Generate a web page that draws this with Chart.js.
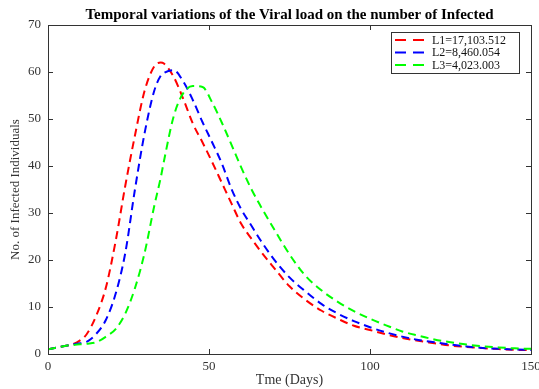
<!DOCTYPE html>
<html>
<head>
<meta charset="utf-8">
<script src="https://cdn.jsdelivr.net/npm/chart.js@4/dist/chart.umd.min.js"></script>
<style>
  html, body { margin: 0; padding: 0; background: #fff; }
  #wrap { width: 539px; height: 389px; }
</style>
</head>
<body>
<div id="wrap"><canvas id="infected"></canvas></div>
<script>
// values
const days = [0, 3, 6, 9, 12, 15, 18, 21, 24, 27, 30, 33, 35, 36, 39, 42, 45, 48, 51, 54, 57, 60, 63, 66, 70, 75, 80, 85, 90, 95, 100, 105, 110, 115, 120, 125, 130, 135, 140, 145, 150];
const infectedL1 = [1.0, 1.4, 1.8, 2.5, 4.2, 8.2, 14.2, 24.0, 35.8, 46.5, 56.0, 61.2, 62.0, 61.8, 59.0, 54.3, 49.0, 45.0, 40.8, 36.4, 32.0, 27.7, 24.7, 21.9, 18.5, 14.4, 11.5, 9.2, 7.5, 6.0, 5.1, 4.2, 3.4, 2.8, 2.3, 1.8, 1.5, 1.25, 1.05, 0.9, 0.8];
const infectedL2 = [1.0, 1.4, 1.8, 2.2, 2.6, 4.3, 7.3, 12.8, 21.5, 35.0, 47.0, 56.0, 59.2, 59.8, 60.4, 58.0, 54.0, 49.3, 45.0, 40.5, 35.1, 30.8, 27.5, 24.2, 20.3, 16.3, 13.3, 10.6, 8.6, 7.0, 5.7, 4.6, 3.7, 3.0, 2.5, 2.0, 1.6, 1.3, 1.1, 0.95, 0.85];
const infectedL3 = [1.0, 1.4, 1.8, 2.0, 2.2, 2.5, 3.7, 5.3, 8.6, 14.0, 21.5, 31.5, 37.5, 41.0, 50.5, 55.5, 57.0, 56.8, 53.5, 49.2, 44.5, 39.7, 35.3, 31.5, 26.8, 21.2, 16.6, 13.5, 11.1, 9.1, 7.5, 6.1, 4.8, 3.9, 3.1, 2.5, 2.0, 1.65, 1.4, 1.2, 1.1];
const seriesNames = ['L1=17,103.512', 'L2=8,460.054', 'L3=4,023.003'];
const seriesColors = ['#ff0000', '#0000ff', '#00ff00'];
const xTicks = [0, 50, 100, 150];
const yTicks = [0, 10, 20, 30, 40, 50, 60, 70];

const serif = "'Liberation Serif', 'DejaVu Serif', serif";

function toPoints(vals) {
    return days.map((d, i) => ({ x: d, y: vals[i] }));
}

// box round the plot with inward ticks, matlab style
const boxPlugin = {
    id: 'boxPlugin',
    afterDatasetsDraw(chart) {
        const { ctx, chartArea: a, scales } = chart;
        ctx.save();
        ctx.strokeStyle = '#333';
        ctx.lineWidth = 1;
        ctx.strokeRect(Math.round(a.left) + 0.5, Math.round(a.top) + 0.5, Math.round(a.right - a.left), Math.round(a.bottom - a.top));
        ctx.beginPath();
        xTicks.forEach(v => {
            const px = Math.round(scales.x.getPixelForValue(v)) + 0.5;
            ctx.moveTo(px, a.bottom); ctx.lineTo(px, a.bottom - 5);
            ctx.moveTo(px, a.top); ctx.lineTo(px, a.top + 5);
        });
        yTicks.forEach(v => {
            const py = Math.round(scales.y.getPixelForValue(v)) + 0.5;
            ctx.moveTo(a.left, py); ctx.lineTo(a.left + 5, py);
            ctx.moveTo(a.right, py); ctx.lineTo(a.right - 5, py);
        });
        ctx.stroke();

        // legend box, top right
        const bx = a.right - 140, by = a.top + 7, bw = 128, bh = 41;
        ctx.fillStyle = '#fff';
        ctx.fillRect(bx, by, bw, bh);
        ctx.strokeStyle = '#333';
        ctx.strokeRect(Math.round(bx) + 0.5, Math.round(by) + 0.5, bw, bh);
        ctx.font = '12px ' + serif;
        ctx.textBaseline = 'middle';
        ctx.textAlign = 'left';
        chart.data.datasets.forEach((ds, i) => {
            const y = by + 8 + i * 12.5;
            ctx.strokeStyle = ds.borderColor;
            ctx.lineWidth = 2;
            ctx.setLineDash([11, 7]);
            ctx.beginPath();
            ctx.moveTo(bx + 4, y); ctx.lineTo(bx + 33, y);
            ctx.stroke();
            ctx.setLineDash([]);
            ctx.fillStyle = '#111';
            ctx.fillText(ds.label, bx + 41, y + 0.5);
        });
        ctx.restore();
    }
};

const datasets = [infectedL1, infectedL2, infectedL3].map((vals, i) => ({
    label: seriesNames[i],
    data: toPoints(vals),
    borderColor: seriesColors[i],
    backgroundColor: seriesColors[i],
    borderWidth: 2,
    borderDash: [8, 5],
    pointRadius: 0,
    cubicInterpolationMode: 'monotone',
    fill: false,
    order: 3 - i
}));

new Chart(document.getElementById('infected'), {
    type: 'line',
    data: { datasets: datasets },
    options: {
        responsive: true,
        maintainAspectRatio: false,
        animation: false,
        devicePixelRatio: 1,
        layout: { padding: { left: 0, right: 8, top: 0, bottom: 0 } },
        plugins: {
            legend: { display: false },
            tooltip: { enabled: false },
            title: {
                display: true,
                fullSize: false,
                text: 'Temporal variations of the Viral load on the number of Infected',
                color: '#000',
                font: { family: serif, size: 15, weight: 'bold' },
                padding: { top: 6.5, bottom: 0.5 }
            }
        },
        scales: {
            x: {
                type: 'linear',
                min: 0,
                max: 150,
                afterBuildTicks(scale) { scale.ticks = xTicks.map(v => ({ value: v })); },
                afterFit(scale) { scale.height = 35; scale.paddingLeft = 0; scale.paddingRight = 0; },
                grid: { display: false, drawTicks: false },
                border: { display: false },
                ticks: { color: '#333', padding: 5, maxRotation: 0, font: { family: serif, size: 13 } },
                title: { display: true, text: 'Tme (Days)', color: '#333', font: { family: serif, size: 14 }, padding: { top: 0, bottom: 0.5 } }
            },
            y: {
                min: 0,
                max: 70,
                afterBuildTicks(scale) { scale.ticks = yTicks.map(v => ({ value: v })); },
                afterFit(scale) { scale.width = 48; },
                grid: { display: false, drawTicks: false },
                border: { display: false },
                ticks: { color: '#333', padding: 7, font: { family: serif, size: 13 } },
                title: { display: true, text: 'No. of Infected Individuals', color: '#333', font: { family: serif, size: 13 }, padding: { top: 8, bottom: 0 } }
            }
        }
    },
    plugins: [boxPlugin]
});
</script>
</body>
</html>
